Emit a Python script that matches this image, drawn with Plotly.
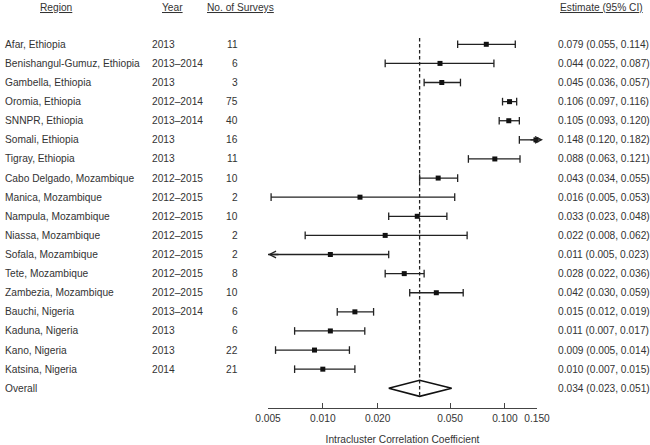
import math
import plotly.graph_objects as go

# ---------------- data ----------------
regions = ["Afar, Ethiopia", "Benishangul-Gumuz, Ethiopia", "Gambella, Ethiopia",
           "Oromia, Ethiopia", "SNNPR, Ethiopia", "Somali, Ethiopia", "Tigray, Ethiopia",
           "Cabo Delgado, Mozambique", "Manica, Mozambique", "Nampula, Mozambique",
           "Niassa, Mozambique", "Sofala, Mozambique", "Tete, Mozambique",
           "Zambezia, Mozambique", "Bauchi, Nigeria", "Kaduna, Nigeria",
           "Kano, Nigeria", "Katsina, Nigeria"]
years = ["2013", "2013\u20132014", "2013", "2012\u20132014", "2013\u20132014", "2013", "2013",
         "2012\u20132015", "2012\u20132015", "2012\u20132015", "2012\u20132015", "2012\u20132015",
         "2012\u20132015", "2012\u20132015", "2013\u20132014", "2013", "2013", "2014"]
surveys = [11, 6, 3, 75, 40, 16, 11, 10, 2, 10, 2, 2, 8, 10, 6, 6, 22, 21]
estimate = [0.079, 0.044, 0.045, 0.106, 0.105, 0.148, 0.088, 0.043, 0.016, 0.033,
            0.022, 0.011, 0.028, 0.042, 0.015, 0.011, 0.009, 0.010]
lower = [0.055, 0.022, 0.036, 0.097, 0.093, 0.120, 0.063, 0.034, 0.0052, 0.023,
         0.008, 0.0045, 0.022, 0.030, 0.012, 0.007, 0.0055, 0.007]
upper = [0.114, 0.087, 0.057, 0.116, 0.120, 0.182, 0.121, 0.055, 0.053, 0.048,
         0.062, 0.023, 0.036, 0.059, 0.019, 0.017, 0.014, 0.015]
ci_labels = ["0.079 (0.055, 0.114)", "0.044 (0.022, 0.087)", "0.045 (0.036, 0.057)",
             "0.106 (0.097, 0.116)", "0.105 (0.093, 0.120)", "0.148 (0.120, 0.182)",
             "0.088 (0.063, 0.121)", "0.043 (0.034, 0.055)", "0.016 (0.005, 0.053)",
             "0.033 (0.023, 0.048)", "0.022 (0.008, 0.062)", "0.011 (0.005, 0.023)",
             "0.028 (0.022, 0.036)", "0.042 (0.030, 0.059)", "0.015 (0.012, 0.019)",
             "0.011 (0.007, 0.017)", "0.009 (0.005, 0.014)", "0.010 (0.007, 0.015)"]
overall_label = "Overall"
overall_est, overall_lo, overall_hi = 0.034, 0.023, 0.051
overall_ci_label = "0.034 (0.023, 0.051)"

tick_vals = [0.005, 0.010, 0.020, 0.050, 0.100, 0.150]
tick_text = ["0.005", "0.010", "0.020", "0.050", "0.100", "0.150"]
x_title = "Intracluster Correlation Coefficient"
headers = ["Region", "Year", "No. of Surveys", "Estimate (95% CI)"]

# ---------------- layout constants ----------------
W, H = 650, 445
X_MIN, X_MAX = 0.005, 0.150
PX_L, PX_R = 268, 537
PX_BOTTOM = 408
ROW0_PX, ROW_STEP = 44.3, 19.11
FONT = "Liberation Sans, Arial, Helvetica, sans-serif"
TXT = "#333333"
LINE = "#222222"
FS = 10.2

def paper_x(px):
    return (px - PX_L) / (PX_R - PX_L)

def row_of(px):
    return (px - ROW0_PX) / ROW_STEP

y_top = row_of(0)
y_bot = row_of(PX_BOTTOM)

n = len(regions)
overall_row = n
cap = 0.2

# CI segments with caps
lx, ly = [], []
arrows = []
for i, (l, h) in enumerate(zip(lower, upper)):
    lc, hc = max(l, X_MIN), min(h, X_MAX)
    lx += [lc, hc, None]
    ly += [i, i, None]
    if l >= X_MIN:
        lx += [l, l, None]; ly += [i - cap, i + cap, None]
    else:
        arrows.append((X_MIN, i, 12, 0))
    if h <= X_MAX:
        lx += [h, h, None]; ly += [i - cap, i + cap, None]
    else:
        arrows.append((X_MAX, i, -14, 6))

fig = go.Figure()
fig.add_trace(go.Scatter(x=lx, y=ly, mode="lines",
                         line=dict(color=LINE, width=1.3), hoverinfo="skip"))
fig.add_trace(go.Scatter(x=estimate, y=list(range(n)), mode="markers",
                         marker=dict(symbol="square", size=5, color="#111111"),
                         hoverinfo="skip", cliponaxis=False))
# reference dashed line at overall estimate
fig.add_trace(go.Scatter(x=[overall_est, overall_est], y=[-0.33, overall_row + 0.42],
                         mode="lines", line=dict(color=LINE, width=1.3, dash="3.5px,2.5px"),
                         hoverinfo="skip"))
# overall diamond
dh = 0.42
fig.add_trace(go.Scatter(x=[overall_lo, overall_est, overall_hi, overall_est, overall_lo],
                         y=[overall_row, overall_row - dh, overall_row, overall_row + dh, overall_row],
                         mode="lines", line=dict(color="#111111", width=1.6), hoverinfo="skip"))

ann = []
for tip, row, off, xs in arrows:
    ann.append(dict(x=math.log10(tip), y=row, xref="x", yref="y", ax=off, ay=0,
                    axref="pixel", ayref="pixel", text="", showarrow=True, xshift=xs,
                    arrowhead=5, arrowsize=1, arrowwidth=1.3, arrowcolor=LINE, standoff=0))

def txt(px, row, s, anchor):
    ann.append(dict(x=paper_x(px), y=row, xref="paper", yref="y", text=s,
                    showarrow=False, xanchor=anchor, yanchor="middle",
                    font=dict(family=FONT, size=FS, color=TXT)))

for i in range(n):
    txt(3, i, regions[i], "left")
    txt(150, i, years[i], "left")
    txt(240, i, str(surveys[i]), "right")
    txt(555.5, i, ci_labels[i], "left")
txt(3, overall_row, overall_label, "left")
txt(555.5, overall_row, overall_ci_label, "left")

hdr_row = row_of(7.5)
for s, cx, anc in zip(headers, [56, 172, 240, 645],
                      ["center", "center", "center", "right"]):
    ann.append(dict(x=paper_x(cx), y=hdr_row, xref="paper", yref="y",
                    text="<u>" + s + "</u>", showarrow=False, xanchor=anc,
                    yanchor="middle", font=dict(family=FONT, size=FS, color=TXT)))

fig.update_layout(
    width=W, height=H,
    margin=dict(l=PX_L, r=W - PX_R, t=0, b=H - PX_BOTTOM, pad=0),
    paper_bgcolor="white", plot_bgcolor="white",
    showlegend=False,
    hovermode=False,
    annotations=ann,
    xaxis=dict(type="log", range=[math.log10(X_MIN), math.log10(X_MAX)],
               tickvals=tick_vals, ticktext=tick_text, ticks="inside", ticklen=5,
               tickwidth=1.2, tickcolor="#444444", showline=True, linecolor="#444444",
               linewidth=1.2, showgrid=False, zeroline=False, ticklabelstandoff=1,
               tickfont=dict(family=FONT, size=FS, color=TXT),
               title=dict(text=x_title, font=dict(family=FONT, size=FS, color=TXT),
                          standoff=12)),
    yaxis=dict(range=[y_bot, y_top], visible=False, showgrid=False, zeroline=False),
)

fig.write_html("out.html", config={"displayModeBar": False},
               post_script="document.body.style.margin='0';")
